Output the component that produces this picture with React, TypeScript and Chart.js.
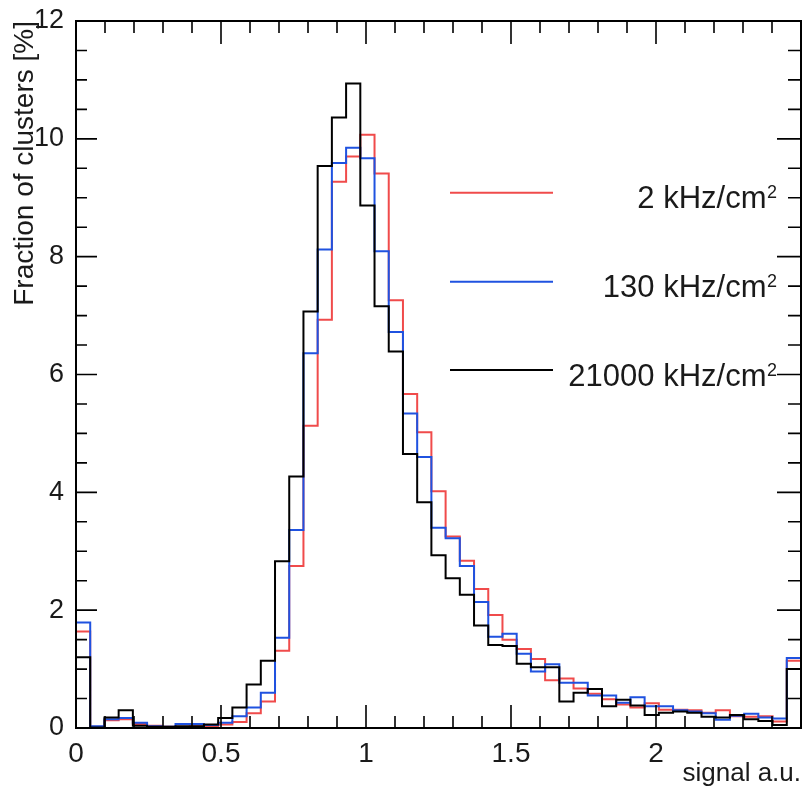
import React, { useEffect, useRef } from 'react';
import { Chart, registerables } from 'chart.js';

Chart.register(...registerables);

// ---- axis / category definitions ----
const X_MIN = 0;
const X_MAX = 2.5;
const BIN_COUNT = 51;
const X_TICKS = [0, 0.5, 1, 1.5, 2];
const Y_TICKS = [0, 2, 4, 6, 8, 10, 12];
const Y_MAX = 12;
const X_TITLE = 'signal a.u.';
const Y_TITLE = 'Fraction of clusters [%]';
const SERIES_LABELS = ['2 kHz/cm²', '130 kHz/cm²', '21000 kHz/cm²'];
const SERIES_COLORS = ['#f04b4b', '#1f52e0', '#000000'];

// ---- series values (fraction of clusters in %, one per bin) ----
const RATE_2KHZ = [
  1.64, 0.02, 0.13, 0.15, 0.07, 0.04, 0.02, 0.02, 0.03, 0.03,
  0.06, 0.10, 0.25, 0.45, 1.31, 2.75, 5.13, 6.93, 9.27, 9.70,
  10.07, 9.41, 7.26, 5.67, 5.02, 4.02, 3.25, 2.84, 2.36, 1.92,
  1.50, 1.34, 1.17, 0.81, 0.84, 0.67, 0.58, 0.49, 0.40, 0.35,
  0.42, 0.31, 0.31, 0.30, 0.26, 0.30, 0.20, 0.19, 0.20, 0.11,
  1.14,
];
const RATE_130KHZ = [
  1.79, 0.03, 0.15, 0.17, 0.09, 0.03, 0.02, 0.07, 0.07, 0.05,
  0.09, 0.20, 0.35, 0.60, 1.53, 3.36, 6.36, 8.12, 9.59, 9.85,
  9.67, 8.09, 6.72, 5.34, 4.60, 3.40, 3.22, 2.75, 2.14, 1.55,
  1.60, 1.26, 0.96, 1.08, 0.77, 0.77, 0.55, 0.55, 0.43, 0.52,
  0.37, 0.37, 0.30, 0.28, 0.25, 0.14, 0.21, 0.24, 0.18, 0.16,
  1.19,
];
const RATE_21000KHZ = [
  1.20, 0.01, 0.18, 0.30, 0.04, 0.02, 0.02, 0.03, 0.03, 0.06,
  0.17, 0.35, 0.74, 1.14, 2.83, 4.27, 7.07, 9.54, 10.36, 10.94,
  8.87, 7.16, 6.39, 4.65, 3.83, 2.93, 2.54, 2.26, 1.74, 1.41,
  1.39, 1.09, 1.03, 1.03, 0.45, 0.60, 0.66, 0.37, 0.48, 0.38,
  0.22, 0.26, 0.28, 0.26, 0.19, 0.18, 0.22, 0.15, 0.12, 0.05,
  1.00,
];
const SERIES_VALUES = [RATE_2KHZ, RATE_130KHZ, RATE_21000KHZ];

const BIN_WIDTH = (X_MAX - X_MIN) / BIN_COUNT;
const BIN_LOW_EDGES = Array.from({ length: BIN_COUNT }, (_, i) => X_MIN + i * BIN_WIDTH);

function histPoints(values: number[]) {
  const pts = values.map((v, i) => ({ x: BIN_LOW_EDGES[i], y: v }));
  pts.push({ x: X_MAX, y: values[values.length - 1] });
  return pts;
}

const FONT = "'Liberation Sans', Arial, Helvetica, sans-serif";

const frameTicksPlugin = {
  id: 'rootFrame',
  afterDatasetsDraw(chart: any) {
    const { ctx, chartArea: a, scales } = chart;
    const xs = scales.x;
    const ys = scales.y;
    ctx.save();
    ctx.strokeStyle = '#000';
    ctx.lineWidth = 2;
    ctx.strokeRect(a.left, a.top, a.right - a.left, a.bottom - a.top);
    ctx.lineWidth = 1.6;
    ctx.beginPath();
    const nx = Math.round((X_MAX - X_MIN) / 0.1);
    for (let i = 0; i <= nx; i++) {
      const px = xs.getPixelForValue(X_MIN + i * 0.1);
      const major = i % 5 === 0;
      const len = major ? 23 : 12;
      ctx.moveTo(px, a.bottom);
      ctx.lineTo(px, a.bottom - len);
      ctx.moveTo(px, a.top);
      ctx.lineTo(px, a.top + len);
    }
    const ny = Math.round(Y_MAX / 0.5);
    for (let i = 0; i <= ny; i++) {
      const py = ys.getPixelForValue(i * 0.5);
      const major = i % 4 === 0;
      ctx.moveTo(a.left, py);
      ctx.lineTo(a.left + (major ? 21 : 11), py);
      ctx.moveTo(a.right, py);
      ctx.lineTo(a.right - (major ? 24 : 13), py);
    }
    ctx.stroke();
    ctx.restore();
  },
};

const LEGEND_LINE_X0 = 450;
const LEGEND_LINE_X1 = 553;
const LEGEND_TEXT_RIGHT = 777;
const LEGEND_ROWS_Y = [192.7, 281.7, 370];

const legendPlugin = {
  id: 'rootLegend',
  afterDraw(chart: any) {
    const { ctx } = chart;
    ctx.save();
    chart.data.datasets.forEach((ds: any, i: number) => {
      const y = LEGEND_ROWS_Y[i];
      ctx.strokeStyle = ds.borderColor;
      ctx.lineWidth = 2;
      ctx.beginPath();
      ctx.moveTo(LEGEND_LINE_X0, y);
      ctx.lineTo(LEGEND_LINE_X1, y);
      ctx.stroke();

      const label: string = ds.label;
      let main = label;
      let sup = '';
      if (label.endsWith('²')) {
        main = label.slice(0, -1);
        sup = '2';
      }
      ctx.fillStyle = '#1a1a1a';
      ctx.textAlign = 'right';
      ctx.textBaseline = 'alphabetic';
      const base = y + 15.5;
      ctx.font = `18px ${FONT}`;
      const supW = sup ? ctx.measureText(sup).width : 0;
      if (sup) ctx.fillText(sup, LEGEND_TEXT_RIGHT, base - 10);
      ctx.font = `31px ${FONT}`;
      ctx.fillText(main, LEGEND_TEXT_RIGHT - supW - 0.5, base);
    });
    ctx.restore();
  },
};

export default function App() {
  const ref = useRef<HTMLCanvasElement>(null);

  useEffect(() => {
    const canvas = ref.current;
    if (!canvas) return;
    const chart = new Chart(canvas, {
      type: 'line',
      data: {
        datasets: SERIES_VALUES.map((vals, i) => ({
          label: SERIES_LABELS[i],
          data: histPoints(vals),
          borderColor: SERIES_COLORS[i],
          backgroundColor: SERIES_COLORS[i],
          borderWidth: 2,
          pointRadius: 0,
          pointHoverRadius: 0,
          stepped: 'before' as const,
          fill: false,
          clip: false as any,
          order: SERIES_VALUES.length - i,
        })),
      },
      options: {
        responsive: false,
        animation: false,
        devicePixelRatio: 1,
        layout: { padding: { top: 21, right: 1, left: 0, bottom: 0 } },
        plugins: {
          legend: { display: false },
          tooltip: { enabled: false },
        },
        scales: {
          x: {
            type: 'linear',
            min: X_MIN,
            max: X_MAX,
            afterBuildTicks: (axis: any) => {
              axis.ticks = X_TICKS.map((value) => ({ value }));
            },
            afterFit: (axis: any) => {
              axis.height = 62;
            },
            ticks: {
              autoSkip: false,
              maxRotation: 0,
              padding: 1,
              color: '#1a1a1a',
              font: { family: FONT, size: 28 },
              callback: (v: any) => String(v),
            },
            grid: { display: false },
            border: { display: false },
            title: {
              display: true,
              text: X_TITLE,
              align: 'end',
              color: '#1a1a1a',
              font: { family: FONT, size: 26 },
              padding: { top: 0, bottom: 1 },
            },
          },
          y: {
            type: 'linear',
            min: 0,
            max: Y_MAX,
            afterBuildTicks: (axis: any) => {
              axis.ticks = Y_TICKS.map((value) => ({ value }));
            },
            afterFit: (axis: any) => {
              axis.width = 76;
            },
            ticks: {
              autoSkip: false,
              padding: 4,
              color: '#1a1a1a',
              font: { family: FONT, size: 27 },
              callback: (v: any) => String(v),
            },
            grid: { display: false },
            border: { display: false },
            title: {
              display: true,
              text: Y_TITLE,
              align: 'end',
              color: '#1a1a1a',
              font: { family: FONT, size: 28 },
              padding: { top: 8, bottom: 0 },
            },
          },
        },
      } as any,
      plugins: [frameTicksPlugin, legendPlugin],
    });
    return () => chart.destroy();
  }, []);

  return (
    <div style={{ position: 'fixed', left: 0, top: 0, width: 802, height: 790, background: '#fff' }}>
      <canvas ref={ref} width={802} height={790} style={{ display: 'block', width: 802, height: 790 }} />
    </div>
  );
}
